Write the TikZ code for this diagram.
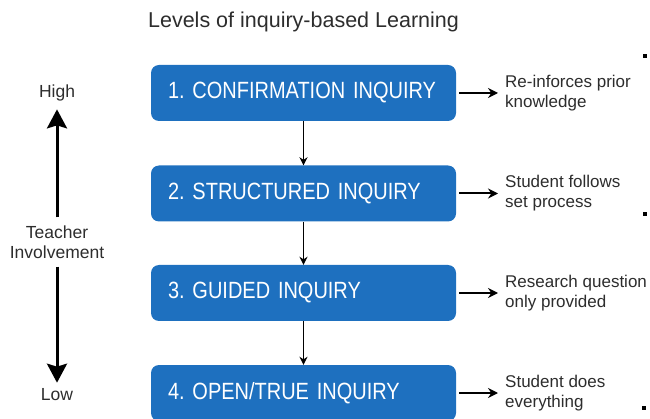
\documentclass[tikz,border=0pt]{standalone}
\usepackage{fontspec}
\setmainfont{Liberation Sans}
\newfontfamily\boxfont[FakeStretch=0.85]{Liberation Sans}
\usetikzlibrary{arrows.meta,positioning}
\definecolor{boxblue}{RGB}{30,112,191}
\definecolor{txtgray}{RGB}{45,45,45}
\frenchspacing

\begin{document}
\begin{tikzpicture}[x=1pt,y=-1pt,
		level/.style={fill=boxblue, rounded corners=8pt, text=white, minimum width=305pt, minimum height=56pt, text width=271pt, inner xsep=17pt, align=left, font=\boxfont\fontsize{23.5}{26}\selectfont},
		note/.style={text=txtgray, align=left, font=\fontsize{17}{20}\selectfont, anchor=west, inner sep=0pt},
		axislabel/.style={text=txtgray, align=center, font=\fontsize{17.5}{20}\selectfont, inner sep=0pt},
		flow/.style={-{Stealth[length=8pt,width=8pt]}, line width=1.5pt},
		side/.style={-{Stealth[length=10pt,width=10pt]}, line width=2pt},
		axis/.style={-{Stealth[length=19pt,width=20pt,inset=3pt]}, line width=3pt}]
		\useasboundingbox (0,0) rectangle (650,419);
		\clip (0,0) rectangle (650,419);
		% title
		\node [text=txtgray, font=\fontsize{21.5}{24}\selectfont] (title) at (303.5,22) {Levels of inquiry-based Learning};
		% levels
		\node [level] (conf) at (303.5,93) {1. CONFIRMATION INQUIRY};
		\node [level] (struc) at (303.5,193.5) {2. STRUCTURED INQUIRY};
		\node [level] (guid) at (303.5,293) {3. GUIDED INQUIRY};
		\node [level] (open) at (303.5,393) {4. OPEN/TRUE INQUIRY};
		\draw [flow] (conf) -- (struc);
		\draw [flow] (struc) -- (guid);
		\draw [flow] (guid) -- (open);
		% notes
		\node [note] (reinf) at (505,93) {Re-inforces prior\\knowledge};
		\node [note] (follow) at (505,193.5) {Student follows\\set process};
		\node [note] (resq) at (505,293) {Research question\\only provided};
		\node [note] (every) at (505,393) {Student does\\everything};
		\draw [side, shorten <=3pt, shorten >=7pt] (conf.east) -- (conf.east -| reinf.west);
		\draw [side, shorten <=3pt, shorten >=7pt] (struc.east) -- (struc.east -| follow.west);
		\draw [side, shorten <=3pt, shorten >=7pt] (guid.east) -- (guid.east -| resq.west);
		\draw [side, shorten <=3pt, shorten >=7pt] (open.east) -- (open.east -| every.west);
		% teacher involvement
		\node [axislabel] (high) at (57,93) {High};
		\node [axislabel] (teach) at (57,242) {Teacher\\Involvement};
		\node [axislabel] (low) at (57,395) {Low};
		\draw [axis, shorten <=8pt, shorten >=8pt] (teach) -- (high);
		\draw [axis, shorten <=8pt, shorten >=6pt] (teach) -- (low);
		% stray marks
		\fill (643,54) rectangle (647,58);
		\fill (643,212) rectangle (647,216);
		\fill (642,406) rectangle (646,410);
\end{tikzpicture}
\end{document}
